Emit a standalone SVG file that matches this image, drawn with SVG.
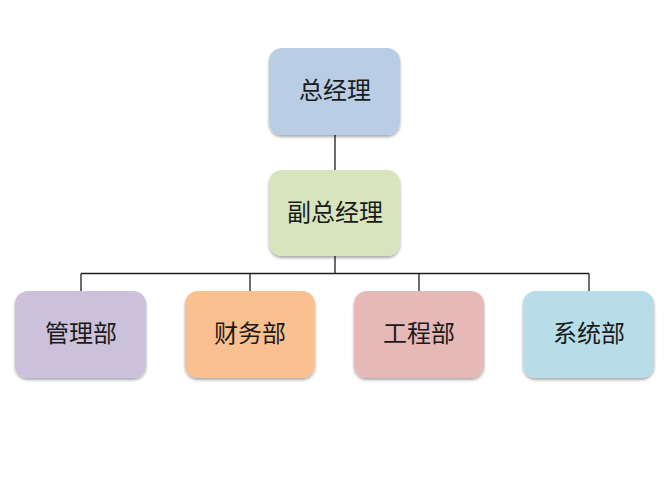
<svg xmlns="http://www.w3.org/2000/svg" width="672" height="500" viewBox="0 0 672 500">
<defs>
<filter id="sh" x="-10%" y="-10%" width="130%" height="130%">
<feGaussianBlur in="SourceAlpha" stdDeviation="1.5"/>
<feOffset dx="0" dy="2" result="b"/>
<feComponentTransfer><feFuncA type="linear" slope="0.35"/></feComponentTransfer>
<feMerge><feMergeNode/><feMergeNode in="SourceGraphic"/></feMerge>
</filter>
</defs>
<style>
.box{filter:url(#sh)}
.t{font-family:"Liberation Serif","Noto Sans CJK SC",serif;font-size:24px;fill:#1a1a1a;text-anchor:middle;dominant-baseline:central}
.c{stroke:#1e1e1e;stroke-width:1.3;fill:none}
</style>
<rect width="672" height="500" fill="#ffffff"/>
<g id="connectors">
<line class="c" x1="335" y1="135" x2="335" y2="170"/>
<line class="c" x1="335" y1="256" x2="335" y2="273.5"/>
<line class="c" x1="81" y1="273.5" x2="589" y2="273.5"/>
<line class="c" x1="81" y1="273.5" x2="81" y2="291"/>
<line class="c" x1="250" y1="273.5" x2="250" y2="291"/>
<line class="c" x1="419" y1="273.5" x2="419" y2="291"/>
<line class="c" x1="589" y1="273.5" x2="589" y2="291"/>
</g>
<g id="n1"><rect class="box" x="269" y="48" width="131" height="87" rx="13" fill="#b9cde5"/><text class="t" x="335" y="91">总经理</text></g>
<g id="n2"><rect class="box" x="269" y="170" width="131" height="86" rx="13" fill="#d7e4bd"/><text class="t" x="335" y="213">副总经理</text></g>
<g id="n3"><rect class="box" x="15" y="291" width="131" height="87" rx="13" fill="#ccc1da"/><text class="t" x="81" y="334">管理部</text></g>
<g id="n4"><rect class="box" x="185" y="291" width="130" height="87" rx="13" fill="#fac090"/><text class="t" x="250" y="334">财务部</text></g>
<g id="n5"><rect class="box" x="354" y="291" width="130" height="87" rx="13" fill="#e6b9b8"/><text class="t" x="419" y="334">工程部</text></g>
<g id="n6"><rect class="box" x="523" y="291" width="131" height="87" rx="13" fill="#b7dee8"/><text class="t" x="589" y="334">系统部</text></g>
</svg>
